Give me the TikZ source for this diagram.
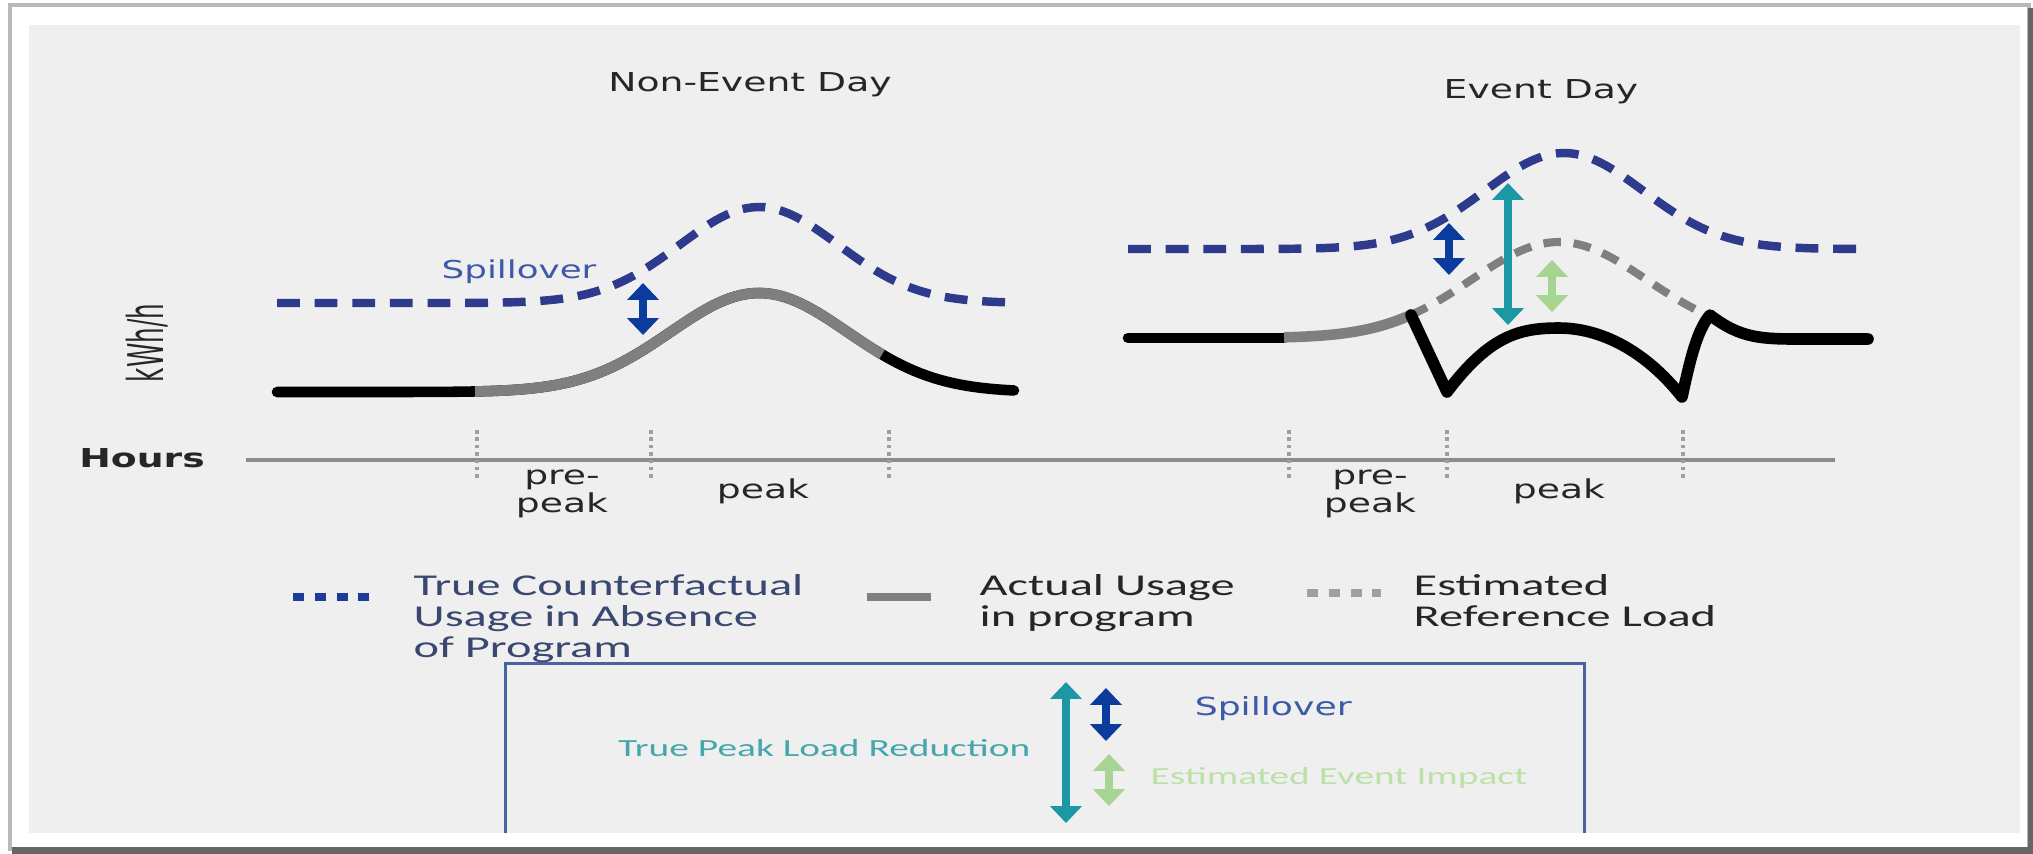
\documentclass[tikz,border=0pt]{standalone}
\usepackage{fontspec}
\usetikzlibrary{arrows.meta,positioning}
\newfontfamily\plotfont[FakeStretch=1.45]{DejaVu Sans}
\newfontfamily\legendfont[FakeStretch=1.6]{Carlito}
\newfontfamily\axisfont{DejaVu Sans}
\definecolor{cfblue}{HTML}{2E3A8C}
\definecolor{dotblue}{HTML}{1D3B9B}
\definecolor{spblue}{HTML}{0B3C9D}
\definecolor{sptext}{HTML}{3C5AA8}
\definecolor{tpteal}{HTML}{1C98A5}
\definecolor{tptext}{HTML}{45A6AB}
\definecolor{eigreen}{HTML}{A6D492}
\definecolor{eitext}{HTML}{BDE0A9}
\definecolor{usegray}{HTML}{7F7F7F}
\definecolor{panelbg}{HTML}{EFEFEF}
\definecolor{boxblue}{HTML}{4A63A0}
\definecolor{legblue}{HTML}{3A4870}
\tikzstyle{truecf} = [draw=cfblue, line width=2.4pt, dash pattern=on 6.5pt off 4.2pt]
\tikzstyle{actual} = [draw=black, line width=3pt, line cap=round, line join=round]
\tikzstyle{actgray} = [draw=usegray, line width=3pt]
\tikzstyle{refload} = [draw=usegray, line width=2.3pt, dash pattern=on 5pt off 3.6pt]
\tikzstyle{dbl} = [<->, >={Triangle[width=8.8pt,length=4.8pt]}, line width=2.2pt]
\tikzstyle{hourtick} = [draw=gray!75, line width=1pt, dash pattern=on 1pt off 1.1pt]
\tikzstyle{legdots} = [line width=2.1pt, dash pattern=on 3.1pt off 3.1pt]
\tikzstyle{lbl} = [inner sep=0pt, align=center, text=black!85, font=\plotfont\fontsize{7.4}{6.3}\selectfont]
\tikzstyle{legtxt} = [inner sep=0pt, anchor=north west, align=left, font=\legendfont\fontsize{8.6}{8.8}\selectfont]
\tikzstyle{boxtxt} = [inner sep=0pt, font=\legendfont\fontsize{7}{8}\selectfont]

\begin{document}
\begin{tikzpicture}[x=0.01cm, y=-0.01cm]
    % frame and panel
    \useasboundingbox (0,0) rectangle (2033,853);
    \fill[white] (0,0) rectangle (2033,853);
    \draw[gray!55, line width=1pt] (10,5) rectangle (2029,849);
    \draw[gray!80!black, line width=2pt] (12,850) -- (2031,850) -- (2031,8);
    \fill[panelbg] (29,25) rectangle (2020,833);
    % titles and axis labels
    \node (ttlnon) [lbl, anchor=base] at (750,91) {Non-Event Day};
    \node (ttlev) [lbl, anchor=base] at (1541,98) {Event Day};
    \node (kwh) [rotate=90, inner sep=0pt, text=black!85, font=\axisfont\fontsize{7}{8}\selectfont] at (147,343) {\scalebox{1}[2]{kWh/h}};
    \node (hours) [lbl, font=\plotfont\bfseries\fontsize{7.4}{8}\selectfont] at (142,458) {Hours};
    % hours axis
    \coordinate (axL) at (246,460);
    \coordinate (axR) at (1835,460);
    \draw[gray!90, line width=0.9pt] (axL) -- (axR);
    \foreach \tx in {477,651,889,1289,1447,1683}
        \draw[hourtick] (\tx,430) -- (\tx,480);
    \node (pre1) [lbl] at (562,494) {pre-\\peak};
    \node (pk1) [lbl] at (763,491) {peak};
    \node (pre2) [lbl] at (1370,494) {pre-\\peak};
    \node (pk2) [lbl] at (1559,491) {peak};
    % non-event day curves
    \draw[truecf] plot[domain=277:1011, samples=120] (\x, {303-96*exp(-(((\x-759)/112)^2))});
    \draw[actual] plot[domain=277:1014, samples=120] (\x, {392-99*exp(-(((\x-759)/125)^2))});
    \draw[actgray] plot[domain=475:882, samples=80] (\x, {392-99*exp(-(((\x-759)/125)^2))});
    \coordinate (sp1a) at (643,283);
    \coordinate (sp1b) at (643,335);
    \draw[dbl, spblue] (sp1a) -- (sp1b);
    \node (sp1txt) [lbl, text=sptext, font=\plotfont\fontsize{7}{8}\selectfont] at (519,272) {Spillover};
    % event day curves
    \draw[truecf] plot[domain=1128:1865, samples=140] (\x, {249-96*exp(-(((\x-1564)/112)^2))});
    \draw[refload] plot[domain=1411:1707, samples=60] (\x, {338-96*exp(-(((\x-1559)/124)^2))});
    \draw[actual] (1128,338) -- (1284,338);
    \draw[actgray] plot[domain=1284:1411, samples=40] (\x, {338-96*exp(-(((\x-1559)/124)^2))});
    \draw[actual, line width=3.3pt] (1411,315) -- (1447,392) .. controls (1490,335) and (1520,328) .. (1559,328)
        .. controls (1600,328) and (1645,350) .. (1682,397) .. controls (1690,360) and (1697,330) .. (1710,315)
        .. controls (1740,338) and (1760,339) .. (1800,339) -- (1868,339);
    \coordinate (sp2a) at (1449,223);
    \coordinate (sp2b) at (1449,275);
    \coordinate (tp2a) at (1508,183);
    \coordinate (tp2b) at (1508,325);
    \coordinate (ei2a) at (1552,260);
    \coordinate (ei2b) at (1552,312);
    \draw[dbl, spblue] (sp2a) -- (sp2b);
    \draw[dbl, tpteal] (tp2a) -- (tp2b);
    \draw[dbl, eigreen] (ei2a) -- (ei2b);
    % legend
    \coordinate (lg1a) at (293,597);
    \coordinate (lg1b) at (370,597);
    \coordinate (lg2a) at (867,597);
    \coordinate (lg2b) at (931,597);
    \coordinate (lg3a) at (1307,593);
    \coordinate (lg3b) at (1381,593);
    \draw[legdots, dotblue] (lg1a) -- (lg1b);
    \draw[usegray, line width=2.1pt] (lg2a) -- (lg2b);
    \draw[legdots, gray!75] (lg3a) -- (lg3b);
    \node (lgcf) [legtxt, text=legblue] at (413,574) {True Counterfactual\\Usage in Absence\\of Program};
    \node (lgact) [legtxt, text=black!85] at (979,574) {Actual Usage\\in program};
    \node (lgref) [legtxt, text=black!85] at (1413,574) {Estimated\\Reference Load};
    % key box
    \coordinate (bxbl) at (505,833);
    \coordinate (bxtl) at (505,663);
    \coordinate (bxtr) at (1584,663);
    \coordinate (bxbr) at (1584,833);
    \draw[boxblue, line width=0.85pt] (bxbl) -- (bxtl) -- (bxtr) -- (bxbr);
    \coordinate (bxtpa) at (1066,682);
    \coordinate (bxtpb) at (1066,823);
    \coordinate (bxtpm) at (1066,748);
    \coordinate (bxspa) at (1106,688);
    \coordinate (bxspb) at (1106,741);
    \coordinate (bxspm) at (1106,709);
    \coordinate (bxeia) at (1109,754);
    \coordinate (bxeib) at (1109,806);
    \coordinate (bxeim) at (1109,778);
    \draw[dbl, tpteal] (bxtpa) -- (bxtpb);
    \draw[dbl, spblue] (bxspa) -- (bxspb);
    \draw[dbl, eigreen] (bxeia) -- (bxeib);
    \node (bxtptxt) [boxtxt, text=tptext, left=0.35cm of bxtpm] {True Peak Load Reduction};
    \node (bxsptxt) [lbl, text=sptext, font=\plotfont\fontsize{7.1}{8}\selectfont, right=0.88cm of bxspm] {Spillover};
    \node (bxeitxt) [boxtxt, text=eitext, right=0.41cm of bxeim] {Estimated Event Impact};
\end{tikzpicture}
\end{document}
